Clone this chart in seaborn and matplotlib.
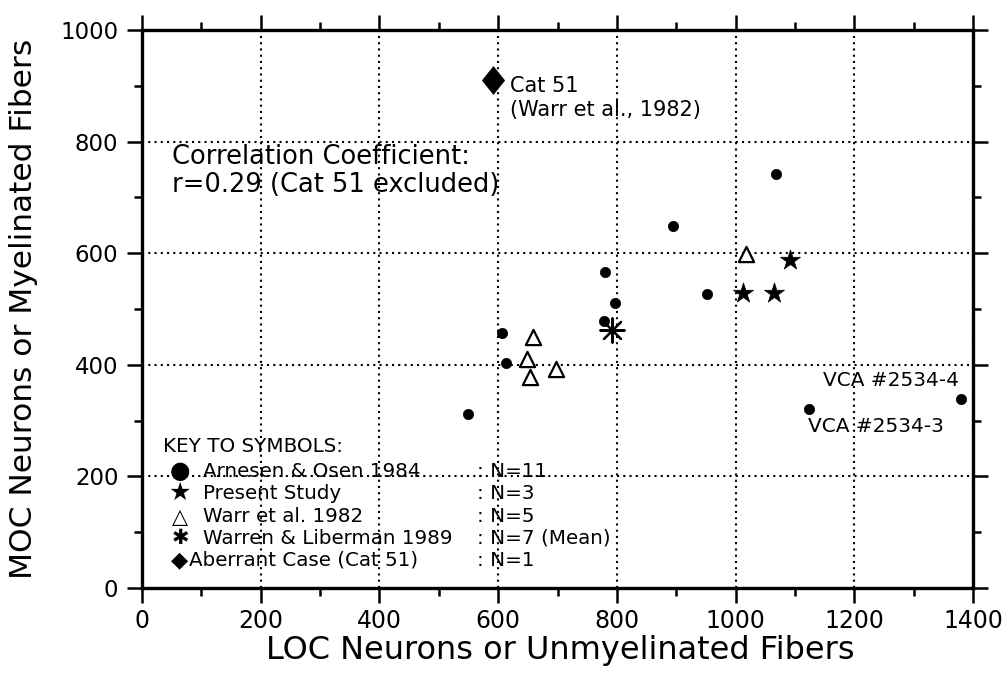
import matplotlib
matplotlib.use("Agg")
import matplotlib.pyplot as plt
import seaborn as sns
import pandas as pd
from matplotlib.ticker import MultipleLocator

# ---- data ----
arnesen_x = [550, 606, 613, 779, 780, 797, 895, 951, 1068, 1123, 1379]
arnesen_y = [311, 457, 404, 479, 566, 510, 648, 526, 741, 320, 339]
present_x = [1013, 1065, 1092]
present_y = [528, 529, 587]
warr_x = [648, 654, 658, 697, 1017]
warr_y = [411, 378, 449, 393, 599]
warren_x = [791]
warren_y = [463]
aberrant_x = [592]
aberrant_y = [911]

xlabel = "LOC Neurons or Unmyelinated Fibers"
ylabel = "MOC Neurons or Myelinated Fibers"
xticks = [0, 200, 400, 600, 800, 1000, 1200, 1400]
yticks = [0, 200, 400, 600, 800, 1000]

key_names = ["Arnesen & Osen 1984", "Present Study", "Warr et al. 1982",
             "Warren & Liberman 1989", "Aberrant Case (Cat 51)"]
key_counts = [": N=11", ": N=3", ": N=5", ": N=7 (Mean)", ": N=1"]
key_symbols = ["\u25CF", "\u2605", "\u25B3", "\u2731", "\u25C6"]

sns.set_style("white")
plt.rcParams['font.family'] = ['DejaVu Sans']
plt.rcParams.update({"text.color": "black", "axes.labelcolor": "black",
                     "xtick.color": "black", "ytick.color": "black"})

fig = plt.figure(figsize=(10.05, 6.75), dpi=100)
ax = fig.add_axes([0.1413, 0.1289, 0.8269, 0.8267])

df_a = pd.DataFrame({"x": arnesen_x, "y": arnesen_y})
df_p = pd.DataFrame({"x": present_x, "y": present_y})
df_w = pd.DataFrame({"x": warr_x, "y": warr_y})
df_l = pd.DataFrame({"x": warren_x, "y": warren_y})
df_c = pd.DataFrame({"x": aberrant_x, "y": aberrant_y})

diamond = [(0, 1), (0.8, 0), (0, -1), (-0.8, 0), (0, 1)]

sns.scatterplot(data=df_a, x="x", y="y", ax=ax, marker="o", s=55,
                color="black", edgecolor="black", linewidth=0.5, zorder=5)
sns.scatterplot(data=df_p, x="x", y="y", ax=ax, marker="*", s=230,
                color="black", edgecolor="black", linewidth=0.5, zorder=5)
sns.scatterplot(data=df_w, x="x", y="y", ax=ax, marker="^", s=120,
                color="white", edgecolor="black", linewidth=1.6, zorder=5)
sns.scatterplot(data=df_l, x="x", y="y", ax=ax, marker=(8, 2, 0), s=300,
                color="black", edgecolor="black", linewidth=1.6, zorder=5)
sns.scatterplot(data=df_c, x="x", y="y", ax=ax, marker=diamond, s=400,
                color="black", edgecolor="black", linewidth=0.5, zorder=5)

ax.set_xlim(0, 1400)
ax.set_ylim(0, 1000)
ax.set_xticks(xticks)
ax.set_yticks(yticks)
ax.xaxis.set_minor_locator(MultipleLocator(100))
ax.yaxis.set_minor_locator(MultipleLocator(100))
ax.grid(True, which="major", color="black", linestyle=(0, (1, 2)), linewidth=1.5)
ax.set_axisbelow(True)

for s in ax.spines.values():
    s.set_visible(True)
    s.set_color("black")
    s.set_linewidth(2.4)

ax.tick_params(which="major", direction="out", length=11, width=1.8, color="black",
               top=True, right=True, bottom=True, left=True)
ax.tick_params(which="minor", direction="out", length=6, width=1.8, color="black",
               top=True, right=True, bottom=True, left=True)
ax.tick_params(axis="y", labelsize=16.5, pad=6)
ax.tick_params(axis="x", labelsize=17, pad=4)

ax.set_xlabel(xlabel, fontsize=23)
ax.set_ylabel(ylabel, fontsize=22.5)
ax.xaxis.label.set_va("center")
ax.yaxis.label.set_va("center")
ax.xaxis.set_label_coords(0.503, -0.112)
ax.yaxis.set_label_coords(-0.142, 0.5)

# annotations
ax.text(620, 899, "Cat 51", fontsize=15, va="center", ha="left")
ax.text(620, 856, "(Warr et al., 1982)", fontsize=15, va="center", ha="left")
ax.text(50, 772, "Correlation Coefficient:", fontsize=18.5, va="center", ha="left")
ax.text(50, 722, "r=0.29 (Cat 51 excluded)", fontsize=18.5, va="center", ha="left")
ax.text(1147, 372, "VCA #2534-4", fontsize=14.5, va="center", ha="left")
ax.text(1122, 290, "VCA #2534-3", fontsize=14.5, va="center", ha="left")

# key
kf = 14.3
ax.text(35, 254, "KEY TO SYMBOLS:", fontsize=kf, va="center", ha="left")
key_ys = [209, 170, 128, 89, 50]
sym_sizes = [17, 18, 15, 15, 16]
for name, cnt, sym, ky, ss in zip(key_names, key_counts, key_symbols, key_ys, sym_sizes):
    ax.text(64, ky, sym, fontsize=ss, va="center", ha="center", family="DejaVu Sans")
    tx = 79 if sym == "\u25C6" else 103
    ax.text(tx, ky, name, fontsize=kf, va="center", ha="left")
    ax.text(564, ky, cnt, fontsize=kf, va="center", ha="left")

fig.savefig("out.png", dpi=100)
